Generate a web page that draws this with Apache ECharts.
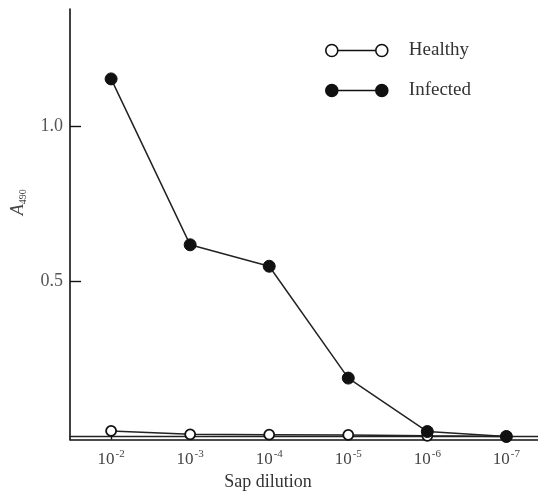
<!DOCTYPE html>
<html>
<head>
<meta charset="utf-8">
<script src="https://cdn.jsdelivr.net/npm/echarts@6/dist/echarts.min.js"></script>
<style>
html,body{margin:0;padding:0;background:#fff;}
#c{width:538px;height:496px;}
</style>
</head>
<body>
<div id="c"></div>
<script>
// dilution exponents (10^-n)
const exponents = [2, 3, 4, 5, 6, 7];
const healthy = [0.018, 0.007, 0.006, 0.005, 0.002, 0.0];
const infected = [1.151, 0.617, 0.548, 0.188, 0.016, 0.0];
const yTicks = [0.5, 1.0];
const seriesNames = ['Healthy', 'Infected'];

const SERIF = '"Liberation Serif", "DejaVu Serif", serif';
const iconPath = 'path://M6,0 A6,6 0 1,1 6,12 A6,6 0 1,1 6,0 Z M12,6 L50,6 M56,0 A6,6 0 1,1 56,12 A6,6 0 1,1 56,0 Z';

const chart = echarts.init(document.getElementById('c'), null, {renderer: 'canvas'});
chart.setOption({
  animation: false,
  backgroundColor: '#fff',
  grid: {left: 70, right: 0, top: 9, bottom: 53, containLabel: false},
  legend: {
    orient: 'vertical',
    left: 320, top: 36,
    itemWidth: 62, itemHeight: 12, itemGap: 21,
    textStyle: {fontFamily: SERIF, fontSize: 19, color: '#333', padding: [0, 0, 0, 16]},
    data: [
      {name: seriesNames[0], icon: iconPath, itemStyle: {color: '#fff', borderColor: '#111', borderWidth: 1.6}},
      {name: seriesNames[1], icon: iconPath, itemStyle: {color: '#111', borderColor: '#111', borderWidth: 1.6}}
    ]
  },
  xAxis: [{
    type: 'value',
    min: 1.48, max: 7.40,
    name: 'Sap dilution',
    nameLocation: 'middle',
    nameGap: 32,
    nameTextStyle: {fontFamily: SERIF, fontSize: 18, color: '#333', padding: [0, 72, 0, 0]},
    axisLine: {show: true, onZero: false, lineStyle: {color: '#111', width: 1.6}},
    axisTick: {show: true, inside: true, length: 5, customValues: exponents, lineStyle: {color: '#111', width: 1.4}},
    axisLabel: {
      customValues: exponents,
      margin: 9,
      formatter: v => '{b|10}{s|-' + v + '}',
      rich: {
        b: {fontFamily: SERIF, fontSize: 17, color: '#444'},
        s: {fontFamily: SERIF, fontSize: 11, color: '#444', padding: [0, 0, 11, 1]}
      }
    },
    splitLine: {show: false}
  }, {
    type: 'value', position: 'top',
    min: 1.48, max: 7.40,
    axisLine: {show: true, lineStyle: {color: '#222', width: 1.4}},
    axisTick: {show: false}, axisLabel: {show: false}, splitLine: {show: false}
  }],
  yAxis: {
    type: 'value',
    min: -0.01, max: 1.376,
    name: '{a|A}{s|490}',
    nameLocation: 'middle',
    nameRotate: 90,
    nameGap: 42,
    nameTextStyle: {
      padding: [0, 0, 0, 44],
      rich: {
        a: {fontFamily: SERIF, fontStyle: 'italic', fontSize: 18, color: '#444'},
        s: {fontFamily: SERIF, fontSize: 10, color: '#444', padding: [9, 0, 0, 0]}
      }
    },
    axisLine: {show: true, lineStyle: {color: '#111', width: 1.6}},
    axisTick: {show: true, inside: true, length: 11, customValues: yTicks, lineStyle: {color: '#111', width: 1.4}},
    axisLabel: {
      customValues: yTicks,
      margin: 7,
      formatter: v => v.toFixed(1),
      fontFamily: SERIF, fontSize: 18, color: '#555'
    },
    splitLine: {show: false}
  },
  series: [{
    name: seriesNames[0],
    type: 'line',
    data: exponents.map((e, i) => [e, healthy[i]]),
    symbol: 'circle', symbolSize: 10,
    itemStyle: {color: '#fff', borderColor: '#111', borderWidth: 1.8},
    lineStyle: {color: '#222', width: 1.5},
    z: 2
  }, {
    name: seriesNames[1],
    type: 'line',
    data: exponents.map((e, i) => [e, infected[i]]),
    symbol: 'circle', symbolSize: 12,
    itemStyle: {color: '#111', borderColor: '#111', borderWidth: 1},
    lineStyle: {color: '#222', width: 1.5},
    z: 3
  }]
});
</script>
</body>
</html>
